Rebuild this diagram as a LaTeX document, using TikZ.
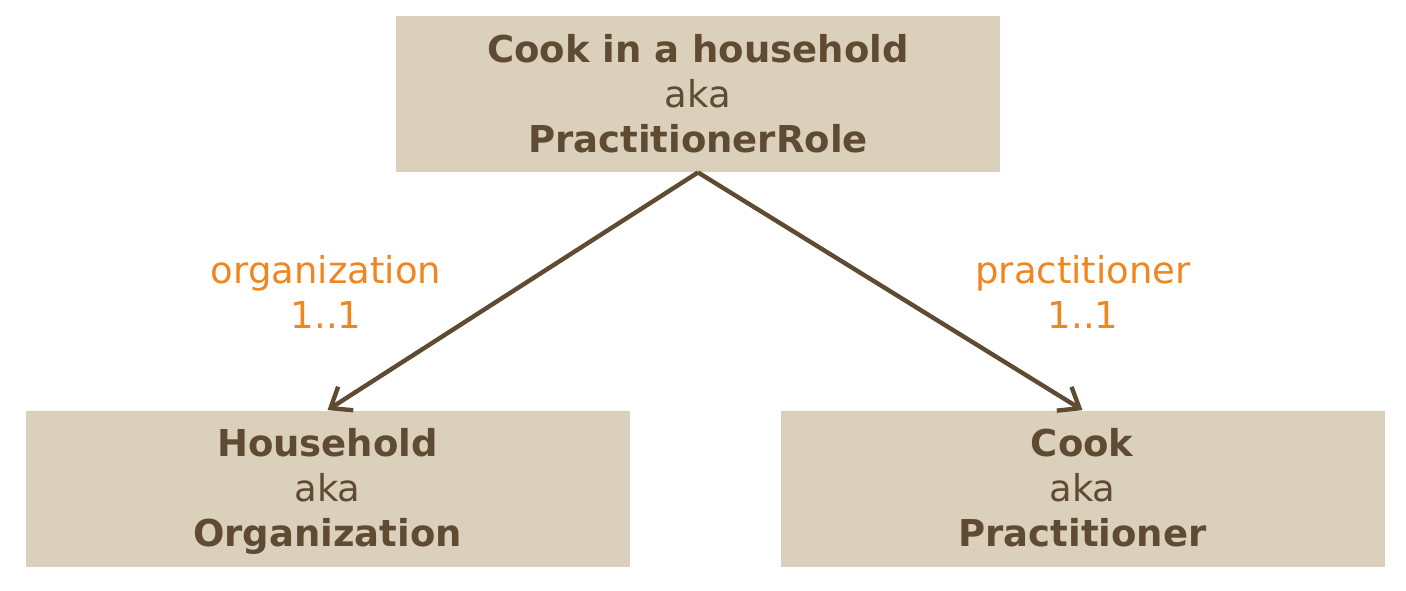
\documentclass[tikz,border=0pt]{standalone}
\usepackage{fontspec}
\setmainfont{DejaVu Sans}
\usetikzlibrary{arrows.meta}
\definecolor{boxfill}{HTML}{DBD0BC}
\definecolor{boxtext}{HTML}{5F4B32}
\definecolor{labelorange}{HTML}{F0861F}
\newcommand{\topgap}{\rule{0pt}{19.75pt}}

\begin{document}
\begin{tikzpicture}[x=0.5pt, y=-0.5pt, >={Straight Barb[length=9pt, width=14pt, line width=2.2pt]},
	resource/.style={fill=boxfill, text=boxtext, minimum width=302pt, minimum height=78pt, align=center, inner sep=0pt,
		font=\fontsize{18.5}{22.5}\selectfont},
	card/.style={text=labelorange, align=center, font=\fontsize{18.5}{22.5}\selectfont},
	link/.style={draw=boxtext, line width=2.2pt, ->}]
	\useasboundingbox (0,0) rectangle (1406,590);

	\node[resource] (role) at (698,94) {\topgap\textbf{Cook in a household}\\aka\\\textbf{PractitionerRole}\strut};
	\node[resource] (org) at (327.5,488.5) {\topgap\textbf{Household}\\aka\\\textbf{Organization}\strut};
	\node[resource] (prac) at (1082.5,488.5) {\topgap\textbf{Cook}\\aka\\\textbf{Practitioner}\strut};

	\draw[link] (role.south) -- (org.north);
	\draw[link] (role.south) -- (prac.north);

	\node[card] (orgCard) at (326,297) {\strut organization\\1..1\strut};
	\node[card] (pracCard) at (1083,297) {\strut practitioner\\1..1\strut};
\end{tikzpicture}
\end{document}
